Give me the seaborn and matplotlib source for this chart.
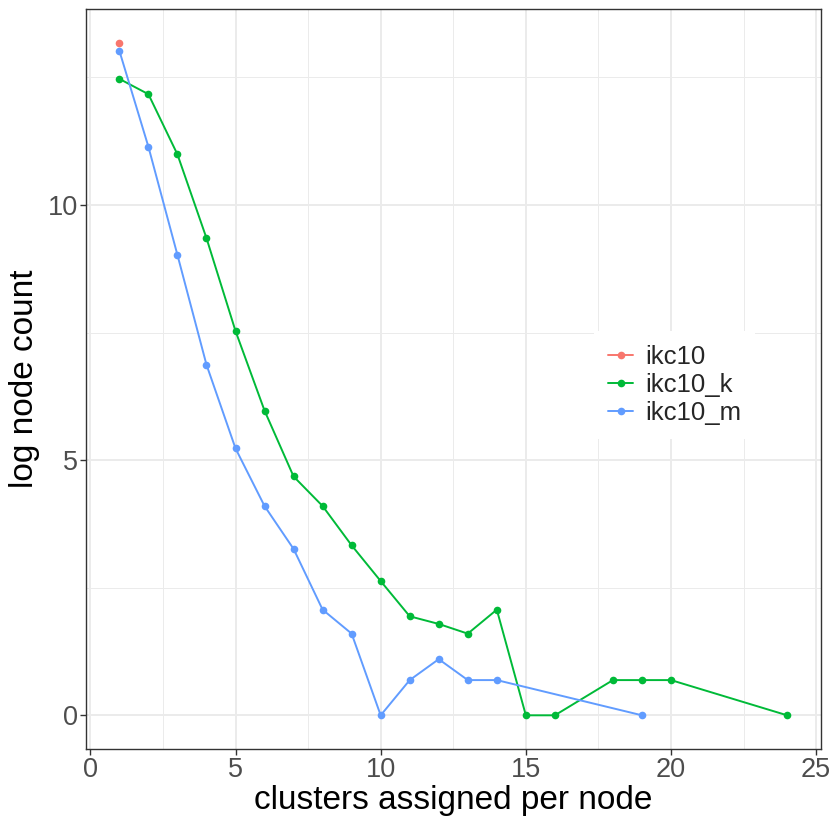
import pandas as pd
import seaborn as sns
import matplotlib.pyplot as plt

# values (log node count per number of clusters)
ikc10_x = [1]
ikc10_y = [13.18]

ikc10_k_x = [1, 2, 3, 4, 5, 6, 7, 8, 9, 10, 11, 12, 13, 14, 15, 16, 18, 19, 20, 24]
ikc10_k_y = [12.47, 12.17, 10.99, 9.35, 7.53, 5.97, 4.68, 4.10, 3.33, 2.63,
             1.94, 1.79, 1.60, 2.07, 0.0, 0.0, 0.69, 0.69, 0.69, 0.0]

ikc10_m_x = [1, 2, 3, 4, 5, 6, 7, 8, 9, 10, 11, 12, 13, 14, 19]
ikc10_m_y = [13.02, 11.14, 9.02, 6.87, 5.23, 4.10, 3.26, 2.07, 1.60, 0.0,
             0.69, 1.10, 0.69, 0.69, 0.0]

series = ["ikc10", "ikc10_k", "ikc10_m"]
palette = {"ikc10": "#F8766D", "ikc10_k": "#00BA38", "ikc10_m": "#619CFF"}

df = pd.concat([
    pd.DataFrame({"x": ikc10_x, "y": ikc10_y, "method": "ikc10"}),
    pd.DataFrame({"x": ikc10_k_x, "y": ikc10_k_y, "method": "ikc10_k"}),
    pd.DataFrame({"x": ikc10_m_x, "y": ikc10_m_y, "method": "ikc10_m"}),
], ignore_index=True)

sns.set_style("white")
plt.rcParams["font.family"] = ["Liberation Sans", "DejaVu Sans"]

fig = plt.figure(figsize=(8.3, 8.3), dpi=100)
ax = fig.add_axes([0.1036, 0.0976, 0.885, 0.8916])

sns.lineplot(
    data=df, x="x", y="y", hue="method", hue_order=series,
    palette=palette, marker="o", markersize=5.5, markeredgewidth=0,
    linewidth=1.4, ax=ax, sort=False,
)

ax.set_xlim(-0.15, 25.15)
ax.set_ylim(-0.66, 13.84)
ax.set_xticks([0, 5, 10, 15, 20, 25])
ax.set_yticks([0, 5, 10])
ax.set_xticks([2.5, 7.5, 12.5, 17.5, 22.5], minor=True)
ax.set_yticks([2.5, 7.5, 12.5], minor=True)

ax.grid(which="major", color="#EBEBEB", linewidth=1.4)
ax.grid(which="minor", color="#EBEBEB", linewidth=0.7)
ax.set_axisbelow(True)

for s in ax.spines.values():
    s.set_color("#333333")
    s.set_linewidth(1.0)

ax.tick_params(axis="both", which="major", length=4, width=1, color="#333333",
               labelsize=19.5, labelcolor="#4D4D4D", pad=2, direction="out",
               bottom=True, left=True)
ax.tick_params(axis="both", which="minor", length=0)

ax.set_xlabel("clusters assigned per node", fontsize=24, color="black", labelpad=1)
ax.set_ylabel("log node count", fontsize=24, color="black", labelpad=5)

leg = ax.legend(
    title=None, loc="center", bbox_to_anchor=(0.801, 0.492),
    frameon=True, fancybox=False, framealpha=1, edgecolor="white",
    fontsize=18.5, handlelength=1.0, handletextpad=0.45, borderpad=0.55,
    labelspacing=0.15,
)
leg.get_frame().set_linewidth(0)

fig.savefig("out.png", dpi=100)
